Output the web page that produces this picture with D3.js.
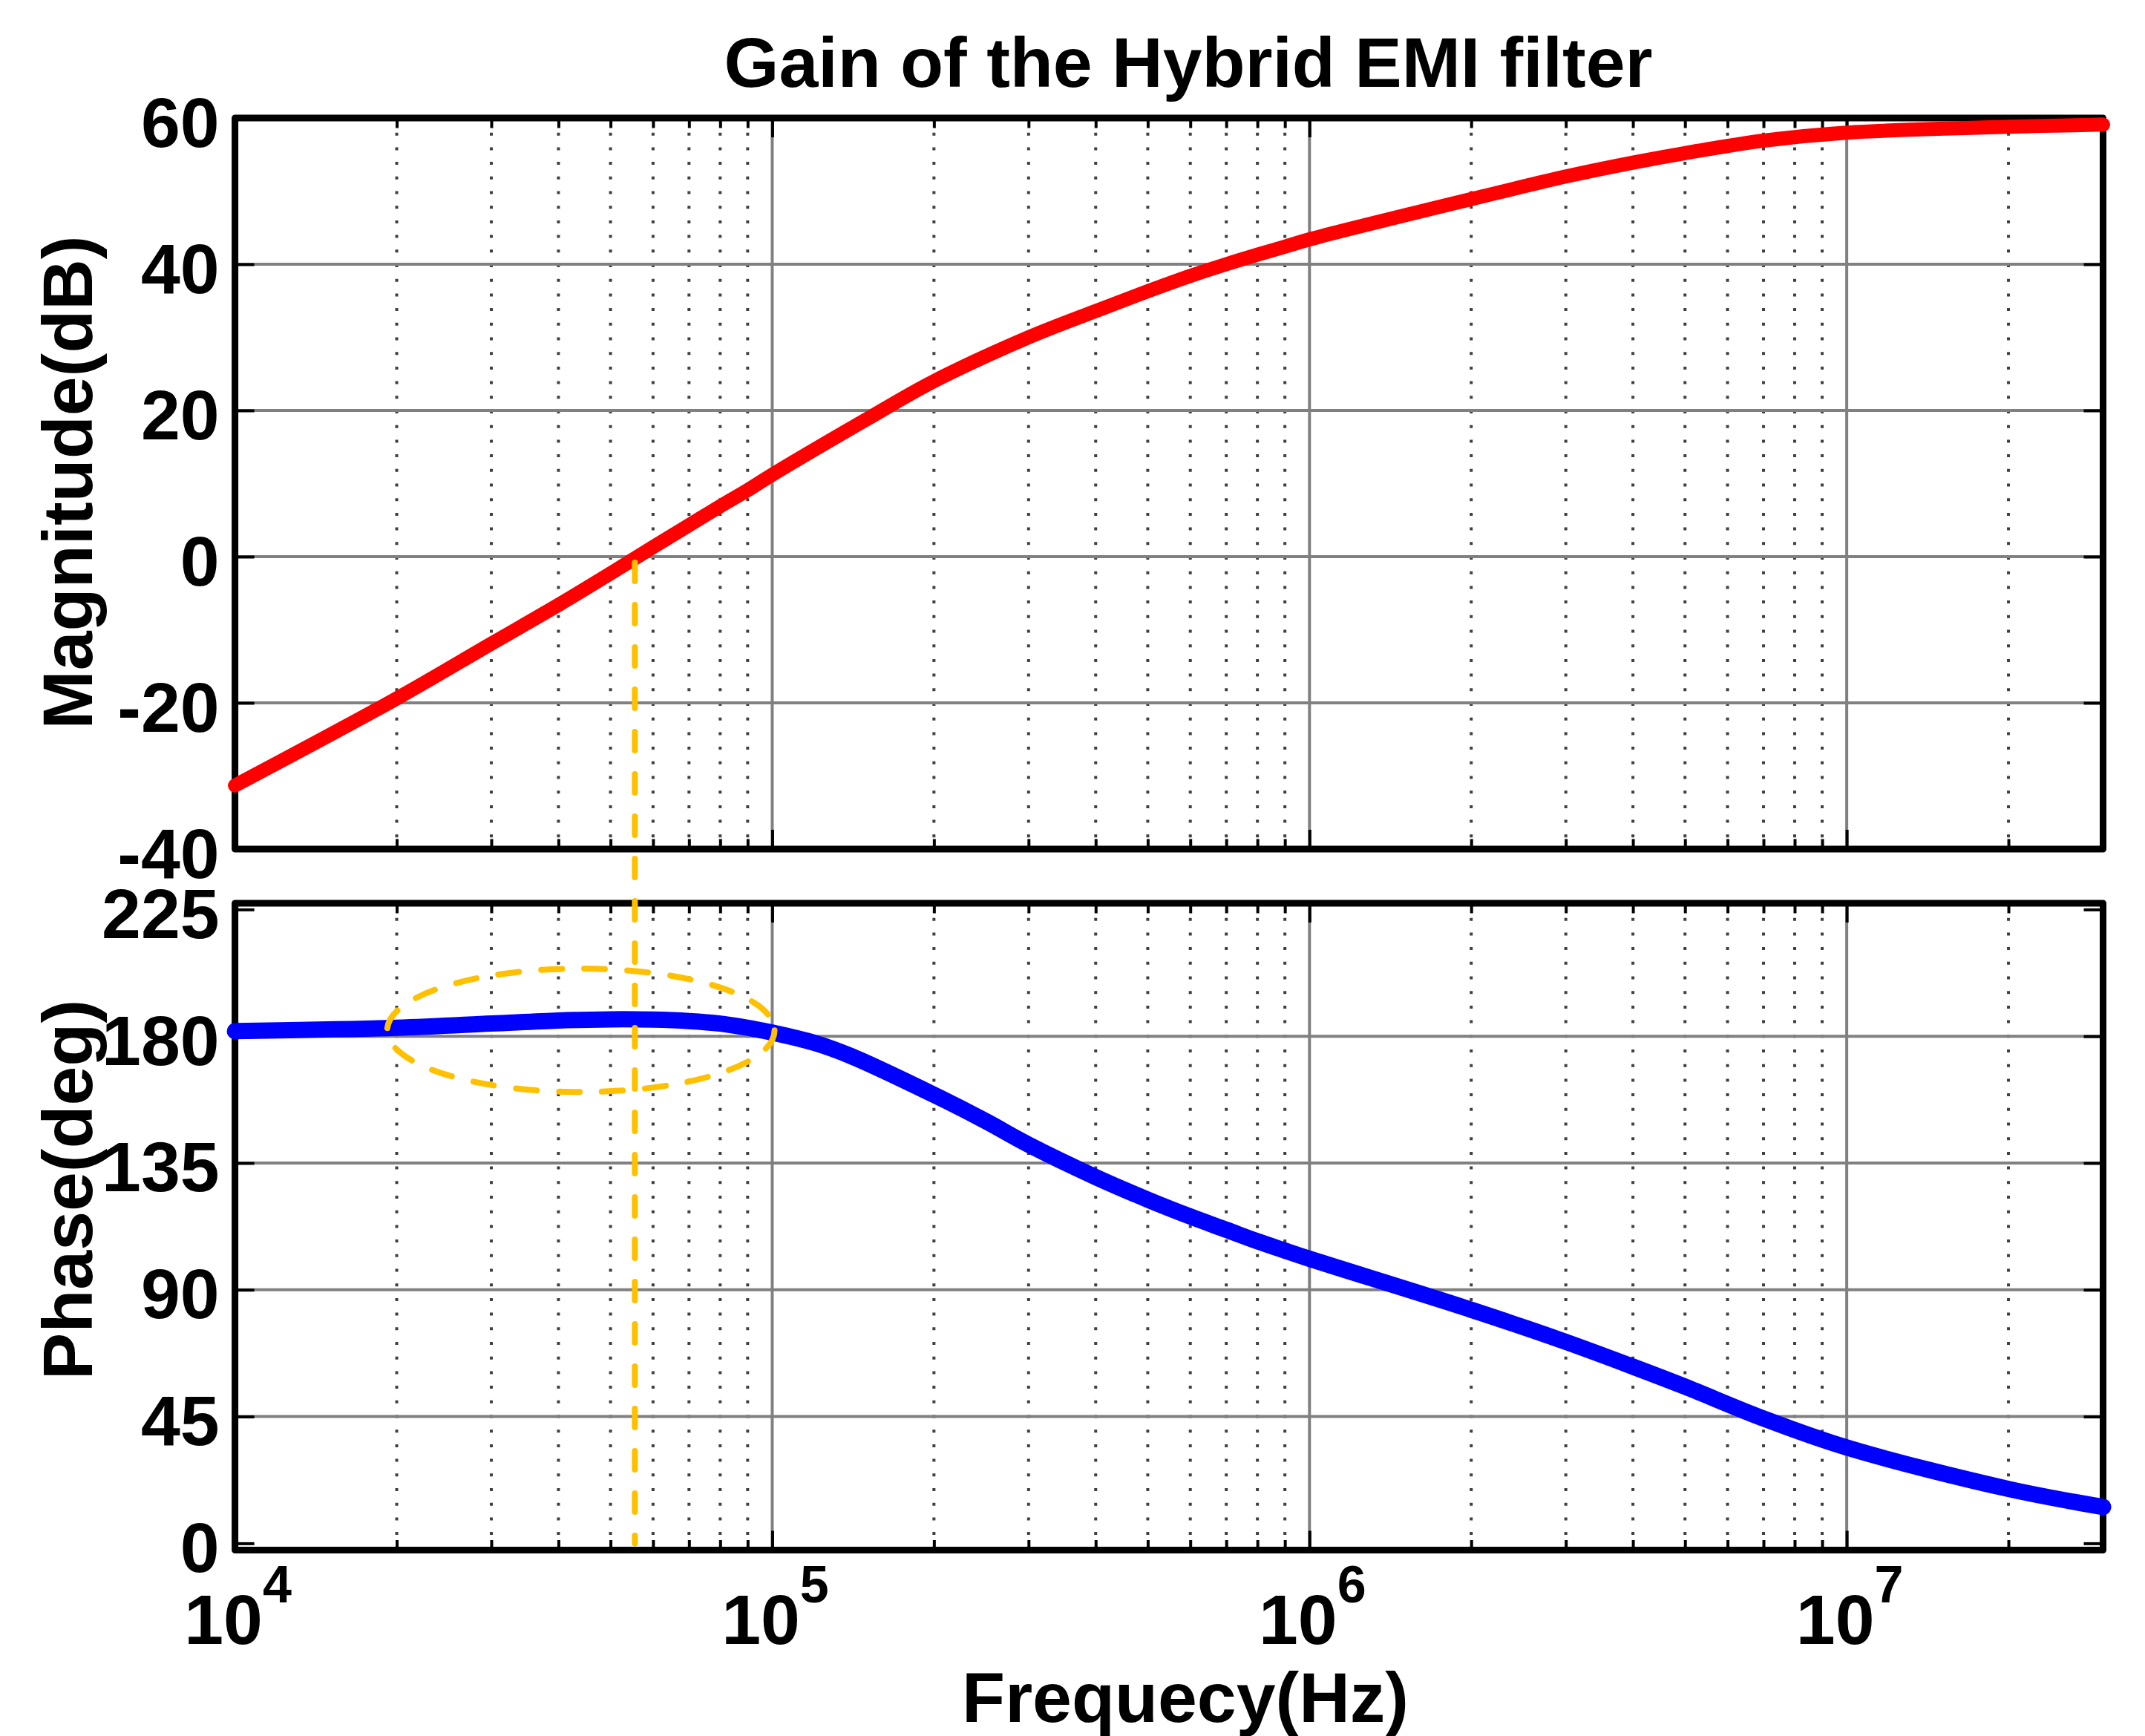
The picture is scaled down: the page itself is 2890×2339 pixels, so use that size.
<!DOCTYPE html>
<html>
<head>
<meta charset="utf-8">
<script src="https://cdn.jsdelivr.net/npm/d3@7"></script>
<style>
  body { margin: 0; background: #fff; }
  text { font-family: "Liberation Sans", Arial, sans-serif; font-weight: bold; fill: #000; }
</style>
</head>
<body>
<svg id="chart"></svg>
<script>
// magnitude curve (Hz, dB)
const freqMag = [1e4, 2e4, 3e4, 4e4, 5e4, 6e4, 7e4, 8e4, 9e4, 1e5, 1.5e5, 2e5, 3e5, 4e5, 5e5, 6e5, 7e5, 8e5, 9e5,
                 1e6, 2e6, 3e6, 4e6, 5e6, 7e6, 1e7, 2e7, 3e7];
const magnitudeDb = [-31.3, -19.4, -11.9, -6.6, -2.3, 1.3, 4.3, 6.9, 9.1, 11.2, 18.8, 24.0, 30.0, 33.6, 36.3, 38.4, 40.0, 41.3, 42.4,
                     43.4, 48.9, 52.0, 53.9, 55.2, 56.9, 58.0, 58.8, 59.1];

// phase curve (Hz, deg)
const freqPhase = [1e4, 2e4, 3e4, 4e4, 5e4, 6e4, 7e4, 8e4, 9e4, 1e5, 1.2e5, 1.4e5, 2e5, 2.5e5, 3e5, 4e5, 5e5, 6e5, 7e5, 8e5, 9e5,
                   1e6, 2e6, 3e6, 4e6, 5e6, 7e6, 1e7, 2e7, 3e7];
const phaseDeg = [181.8, 183.0, 184.5, 185.6, 186.0, 185.9, 185.4, 184.5, 183.0, 181.3, 177.6, 173.0, 159.2, 149.8, 141.5, 130.0, 122.0, 116.0, 111.3, 107.2, 103.9,
                  101.0, 82.9, 71.5, 62.7, 55.6, 44.3, 34.0, 19.3, 12.9];

const magTicks = [-40, -20, 0, 20, 40, 60];
const phaseTicks = [0, 45, 90, 135, 180, 225];
const decadeExponents = [4, 5, 6, 7];

// annotation: 0 dB crossing and the highlighted region
const crossFreq = 5.55e4;
const zoomFreq = [1.92e4, 1.01e5];
const zoomPhase = [160.2, 204.0];

const titleText = "Gain of the Hybrid EMI filter";
const xTitle = "Frequecy(Hz)";
const magTitle = "Magnitude(dB)";
const phaseTitle = "Phase(deg)";

const W = 2890, H = 2339;
const svg = d3.select("#chart").attr("width", W).attr("height", H);
svg.append("rect").attr("width", W).attr("height", H).attr("fill", "#fff");

const x = d3.scaleLog().domain([1e4, 3e7]).range([316.6, 2833.5]);
const yMag = d3.scaleLinear().domain([-40, 60]).range([1144, 159]);
const yPh = d3.scaleLinear().domain([-2.4, 227.2]).range([2088.5, 1217]);

const allX = x.ticks();
const isDecade = v => Math.abs(Math.log10(v) - Math.round(Math.log10(v))) < 1e-9;
const majorX = allX.filter(isDecade);
const minorX = allX.filter(v => !isDecade(v) && v < 3e7);

function panel(y, ticks) {
	const [y0, y1] = y.range();
	const x0 = x.range()[0], x1 = x.range()[1];
	const g = svg.append("g");

	// grid
	g.selectAll(".minor").data(minorX).enter().append("line")
		.attr("x1", d => x(d)).attr("x2", d => x(d))
		.attr("y1", y1).attr("y2", y0)
		.attr("stroke", "#404040").attr("stroke-width", 4)
		.attr("stroke-dasharray", "4 15.7");
	g.selectAll(".majorv").data(majorX.filter(d => d > 1e4)).enter().append("line")
		.attr("x1", d => x(d)).attr("x2", d => x(d))
		.attr("y1", y1).attr("y2", y0)
		.attr("stroke", "#808080").attr("stroke-width", 4);
	g.selectAll(".majorh").data(ticks.slice(1, -1)).enter().append("line")
		.attr("x1", x0).attr("x2", x1)
		.attr("y1", d => y(d)).attr("y2", d => y(d))
		.attr("stroke", "#808080").attr("stroke-width", 4);

	// frame
	g.append("rect")
		.attr("x", x0).attr("y", y1)
		.attr("width", x1 - x0).attr("height", y0 - y1)
		.attr("fill", "none").attr("stroke", "#000")
		.attr("stroke-width", 9).attr("stroke-linejoin", "round");

	// ticks (inward)
	const tickAxis = (axis, values, size, tr) => {
		const a = g.append("g").attr("transform", tr)
			.call(axis.tickValues(values).tickSizeInner(-size).tickSizeOuter(0).tickFormat(""));
		a.select(".domain").remove();
		a.selectAll("line").attr("stroke", "#000").attr("stroke-width", 4);
	};
	tickAxis(d3.axisBottom(x), majorX, 26, `translate(0,${y0})`);
	tickAxis(d3.axisBottom(x), minorX, 13.5, `translate(0,${y0})`);
	tickAxis(d3.axisTop(x), majorX, 26, `translate(0,${y1})`);
	tickAxis(d3.axisTop(x), minorX, 13.5, `translate(0,${y1})`);
	tickAxis(d3.axisRight(y), ticks, 26, `translate(${x1},0)`);

	const left = g.append("g").attr("transform", `translate(${x0},0)`)
		.call(d3.axisLeft(y).tickValues(ticks).tickSizeInner(-26).tickSizeOuter(0)
			.tickPadding(21).tickFormat(d => String(d)));
	left.select(".domain").remove();
	left.selectAll("line").attr("stroke", "#000").attr("stroke-width", 4);
	left.attr("font-size", null).attr("font-family", null);
	left.selectAll("text").attr("font-size", 95).attr("dy", "0.4em").attr("fill", "#000");
	return g;
}

panel(yMag, magTicks);
panel(yPh, phaseTicks);

// curves
const magData = freqMag.map((f, i) => ({ f, v: magnitudeDb[i] }));
const phData = freqPhase.map((f, i) => ({ f, v: phaseDeg[i] }));

svg.append("path").datum(magData)
	.attr("fill", "none").attr("stroke", "#ff0000").attr("stroke-width", 19)
	.attr("stroke-linecap", "round").attr("stroke-linejoin", "round")
	.attr("d", d3.line().x(d => x(d.f)).y(d => yMag(d.v)).curve(d3.curveCatmullRom.alpha(0.5)));

svg.append("path").datum(phData)
	.attr("fill", "none").attr("stroke", "#0000ff").attr("stroke-width", 22)
	.attr("stroke-linecap", "round").attr("stroke-linejoin", "round")
	.attr("d", d3.line().x(d => x(d.f)).y(d => yPh(d.v)).curve(d3.curveCatmullRom.alpha(0.5)));

// annotations
const orange = "#ffc000";
svg.append("line")
	.attr("x1", x(crossFreq)).attr("x2", x(crossFreq))
	.attr("y1", yMag(0) + 8).attr("y2", yPh(0))
	.attr("stroke", orange).attr("stroke-width", 8)
	.attr("stroke-dasharray", "25 32").attr("stroke-linecap", "round");

const ex0 = x(zoomFreq[0]), ex1 = x(zoomFreq[1]);
const ey0 = yPh(zoomPhase[1]), ey1 = yPh(zoomPhase[0]);
svg.append("ellipse")
	.attr("cx", (ex0 + ex1) / 2).attr("cy", (ey0 + ey1) / 2)
	.attr("rx", (ex1 - ex0) / 2).attr("ry", (ey1 - ey0) / 2)
	.attr("fill", "none").attr("stroke", orange).attr("stroke-width", 8)
	.attr("stroke-dasharray", "28 30").attr("stroke-linecap", "round");

// x tick labels 10^n
svg.append("g").selectAll("text").data(decadeExponents).enter().append("text")
	.attr("x", d => x(Math.pow(10, d)) + 4)
	.attr("y", 2215)
	.attr("text-anchor", "middle")
	.attr("font-size", 95)
	.each(function(d) {
		const t = d3.select(this);
		t.append("tspan").text("10");
		t.append("tspan").attr("dy", -56).attr("font-size", 70).text(d);
	});

// titles
svg.append("text").attr("x", 1601).attr("y", 117).attr("text-anchor", "middle")
	.attr("font-size", 95).text(titleText);
svg.append("text").attr("x", 1597).attr("y", 2320).attr("text-anchor", "middle")
	.attr("font-size", 95).text(xTitle);
svg.append("text").attr("transform", "translate(124,650) rotate(-90)").attr("text-anchor", "middle")
	.attr("font-size", 95).text(magTitle);
svg.append("text").attr("transform", "translate(124,1603) rotate(-90)").attr("text-anchor", "middle")
	.attr("font-size", 95).text(phaseTitle);
</script>
</body>
</html>
